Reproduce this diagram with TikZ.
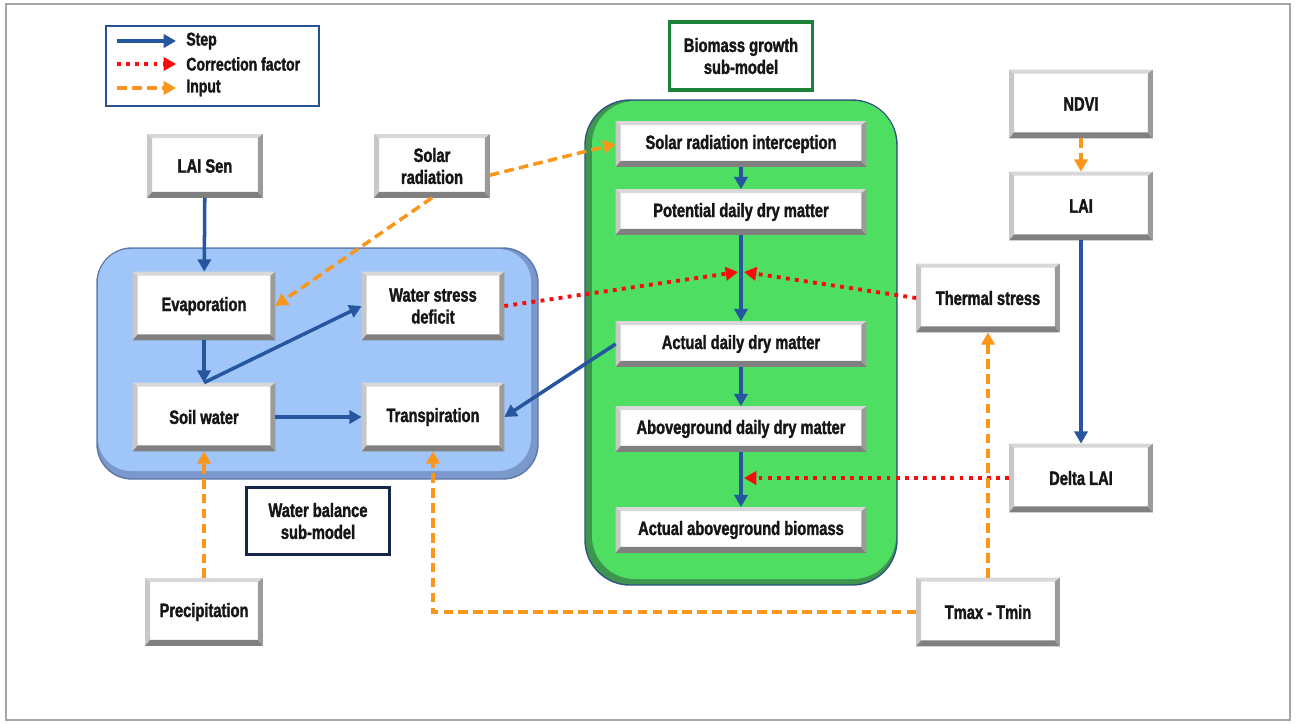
\documentclass[tikz,border=0pt]{standalone}
\usepackage{fontspec}
\setmainfont{Liberation Sans}[FakeStretch=0.76, BoldFeatures={FakeBold=1.6}]
\usetikzlibrary{arrows.meta}

\definecolor{stepblue}{RGB}{38,86,158}
\definecolor{corrred}{RGB}{250,10,10}
\definecolor{inporange}{RGB}{250,150,25}
\definecolor{greenfill}{RGB}{78,222,98}
\definecolor{greenshade}{RGB}{62,150,78}
\definecolor{greenline}{RGB}{45,85,130}
\definecolor{bluefill}{RGB}{160,197,248}
\definecolor{blueshade}{RGB}{122,152,204}
\definecolor{blueline}{RGB}{92,120,168}
\definecolor{labgreen}{RGB}{28,130,58}
\definecolor{labnavy}{RGB}{22,38,72}
\definecolor{legblue}{RGB}{40,82,150}
\definecolor{bevlight}{RGB}{216,216,216}
\definecolor{bevleft}{RGB}{200,200,200}
\definecolor{bevdark}{RGB}{128,128,128}
\definecolor{bevright}{RGB}{155,155,155}
\definecolor{framegray}{RGB}{165,165,165}
\definecolor{txtgray}{RGB}{22,22,22}

\tikzset{
  box/.style={fill=white, inner sep=0pt, align=center, text=txtgray},
  smallbox/.style={box, minimum width=2.3cm, minimum height=1.26cm},
  sidebox/.style={box, minimum width=2.86cm, minimum height=1.36cm},
  waterbox/.style={box, minimum width=2.84cm, minimum height=1.36cm},
  growbox/.style={box, minimum width=5cm, minimum height=0.9cm},
  labbox/.style={box, line width=2pt, minimum width=2.86cm, minimum height=1.36cm},
  legtxt/.style={anchor=west, inner sep=0pt, text=txtgray,
    font=\fontsize{10.5}{12}\selectfont\bfseries},
  steparr/.style={draw=stepblue, line width=2pt,
    -{Triangle[length=7pt,width=7.5pt]}},
  corrarr/.style={draw=corrred, line width=2.2pt, dash pattern=on 2.2pt off 3pt,
    -{Triangle[length=7pt,width=7.5pt]}},
  inparr/.style={draw=inporange, line width=2pt, dash pattern=on 5.5pt off 3pt,
    -{Triangle[length=7pt,width=7.5pt]}}
}

\begin{document}
\begin{tikzpicture}[x=0.02cm, y=-0.02cm, font=\fontsize{11}{12.5}\selectfont\bfseries]
      \useasboundingbox (0,0) rectangle (1296,724);
      \draw[framegray, line width=1pt] (6,4) rectangle (1290,720);

      % sub-model panels
      \filldraw[fill=blueshade, draw=blueline, line width=0.8pt, rounded corners=0.7cm]
        (97,248) rectangle (538,479);
      \fill[bluefill, rounded corners=0.66cm] (98,249) rectangle (531,471);
      \filldraw[fill=greenshade, draw=greenline, line width=0.8pt, rounded corners=0.9cm]
        (585,100) rectangle (897,585);
      \fill[greenfill, rounded corners=0.86cm] (592,101) rectangle (896,579);

      \node[labbox, draw=labgreen] (biolab) at (741,56) {Biomass growth\\sub-model};
      \node[labbox, draw=labnavy, minimum height=1.34cm] (watlab) at (318,521)
        {Water balance\\sub-model};

      % legend
      \node[draw=legblue, line width=1.6pt, fill=white, minimum width=4.26cm,
        minimum height=1.6cm] (legend) at (212.5,66) {};
      \node[legtxt] (lstep) at (186,41) {Step};
      \node[legtxt] (lcorr) at (186,64) {Correction factor};
      \node[legtxt] (linp) at (186,88) {Input};
      \coordinate (lstepa) at (117,41);
      \coordinate (lstepb) at (176,41);
      \coordinate (lcorra) at (117,64);
      \coordinate (lcorrb) at (176,64);
      \coordinate (linpa) at (117,88);
      \coordinate (linpb) at (176,88);

      % boxes
      \node[smallbox] (laisen) at (205,166) {LAI Sen};
      \node[smallbox] (solar) at (432,166) {Solar\\radiation};
      \node[smallbox, minimum width=2.34cm, minimum height=1.34cm] (precip) at (204,612)
        {Precipitation};
      \node[waterbox] (evap) at (204,306) {Evaporation};
      \node[waterbox] (wsd) at (433,306) {Water stress\\deficit};
      \node[waterbox] (soilw) at (204,417) {Soil water};
      \node[waterbox] (transp) at (433,417) {Transpiration};
      \node[growbox] (sri) at (741,144) {Solar radiation interception};
      \node[growbox] (pddm) at (741,212) {Potential daily dry matter};
      \node[growbox] (addm) at (741,344) {Actual daily dry matter};
      \node[growbox] (agdm) at (741,429) {Aboveground daily dry matter};
      \node[growbox] (aab) at (741,530) {Actual aboveground biomass};
      \node[sidebox] (ndvi) at (1081,104) {NDVI};
      \node[sidebox] (lai) at (1081,206) {LAI};
      \node[sidebox] (dlai) at (1081,478) {Delta LAI};
      \node[sidebox] (thermal) at (988,298) {Thermal stress};
      \node[sidebox] (tmax) at (988,612) {Tmax - Tmin};

      % bevel edges
      \foreach \n in {laisen,solar,precip,evap,wsd,soilw,transp,sri,pddm,addm,
                      agdm,aab,ndvi,lai,dlai,thermal,tmax} {
        \fill[bevlight] (\n.north west) -- (\n.north east)
          -- ([shift={(-5,4)}]\n.north east) -- ([shift={(5,4)}]\n.north west) -- cycle;
        \fill[bevleft] (\n.north west) -- ([shift={(5,4)}]\n.north west)
          -- ([shift={(5,-6)}]\n.south west) -- (\n.south west) -- cycle;
        \fill[bevdark] (\n.south west) -- ([shift={(5,-6)}]\n.south west)
          -- ([shift={(-5,-6)}]\n.south east) -- (\n.south east) -- cycle;
        \fill[bevright] (\n.north east) -- (\n.south east)
          -- ([shift={(-5,-6)}]\n.south east) -- ([shift={(-5,4)}]\n.north east) -- cycle;
      }

      \coordinate (wsmeet) at (738,272);
      \coordinate (tsmeet) at (744,272);
      \coordinate (dlmeet) at (744,478);

      \begin{scope}
        \draw[steparr] (lstepa) -- (lstepb);
        \draw[corrarr] (lcorra) -- (lcorrb);
        \draw[inparr] (linpa) -- (linpb);

        \draw[steparr] (laisen) -- (evap);
        \draw[steparr] (evap) -- (soilw);
        \draw[steparr] (soilw.north) -- (wsd.west);
        \draw[steparr] (soilw) -- (transp);
        \draw[steparr] (addm.west) -- (transp.east);
        \draw[steparr] (sri) -- (pddm);
        \draw[steparr] (pddm) -- (addm);
        \draw[steparr] (addm) -- (agdm);
        \draw[steparr] (agdm) -- (aab);
        \draw[steparr] (lai) -- (dlai);
        \draw[corrarr] (wsd.east) -- (wsmeet);
        \draw[corrarr] (thermal.west) -- (tsmeet);
        \draw[corrarr] (dlai.west) -- (dlmeet);
        \draw[inparr] (solar.-9) -- (sri.west);
        \draw[inparr] (solar.south) -- (evap.east);
        \draw[inparr] (precip) -- (soilw);
        \draw[inparr] (tmax.west) -| (transp.south);
        \draw[inparr] (tmax) -- (thermal);
        \draw[inparr] (ndvi) -- (lai);
      \end{scope}
    \end{tikzpicture}
\end{document}
